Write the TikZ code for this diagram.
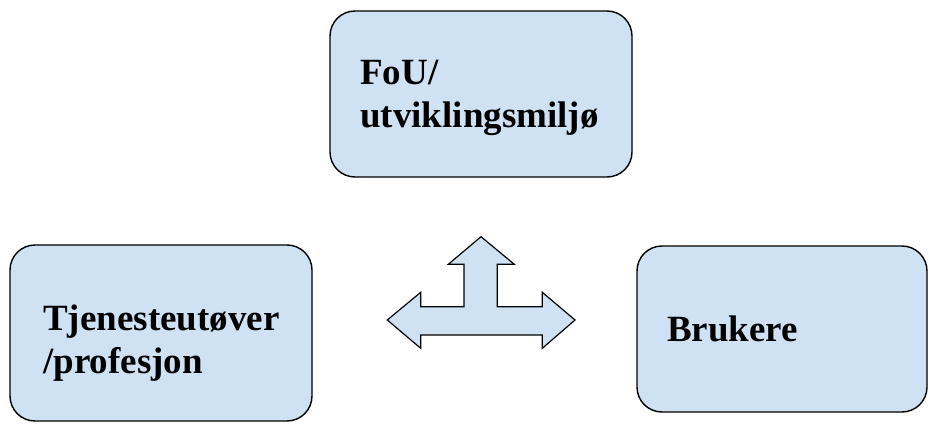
\documentclass[tikz,border=0pt]{standalone}
\usepackage{fontspec}
\setmainfont{Liberation Serif}
\definecolor{boxfill}{HTML}{CFE2F3}
\begin{document}
\begin{tikzpicture}[x=1pt,y=1pt,
  rbox/.style={draw=black,line width=1.4pt,fill=boxfill,rounded corners=25pt},
  lbl/.style={anchor=base west,inner sep=0pt,font=\fontsize{37}{43}\selectfont\bfseries},
  arrowshape/.style={draw=black,line width=1.2pt,fill=boxfill,line join=miter}]
\useasboundingbox (0,0) rectangle (930,424);
% boxes
\path[rbox] (330,247) rectangle (632,413);
\coordinate (topbox) at (481,330);
\path[rbox] (10,3) rectangle (312,179);
\coordinate (leftbox) at (161,91);
\path[rbox] (637,12) rectangle (927,178);
\coordinate (rightbox) at (782,95);
% texts
\node[lbl] (t1) at (360,339) {FoU/};
\node[lbl] (t2) at (360,296) {utviklingsmiljø};
\node[lbl] (l1) at (43,94) {Tjenesteutøver};
\node[lbl] (l2) at (43,51) {/profesjon};
\node[lbl] (r1) at (667,83) {Brukere};
% three-way arrow
\draw[arrowshape] (481,187.3) -- (514.3,159.7) -- (497.3,159.7) -- (497.3,117.3)
  -- (542.3,117.3) -- (542.3,131.7) -- (575,104) -- (542.3,75.7) -- (542.3,89)
  -- (420.7,89) -- (420.7,75.7) -- (387.3,104) -- (420.7,131.7) -- (420.7,117.3)
  -- (464,117.3) -- (464,159.7) -- (448.3,159.7) -- cycle;
\end{tikzpicture}
\end{document}
